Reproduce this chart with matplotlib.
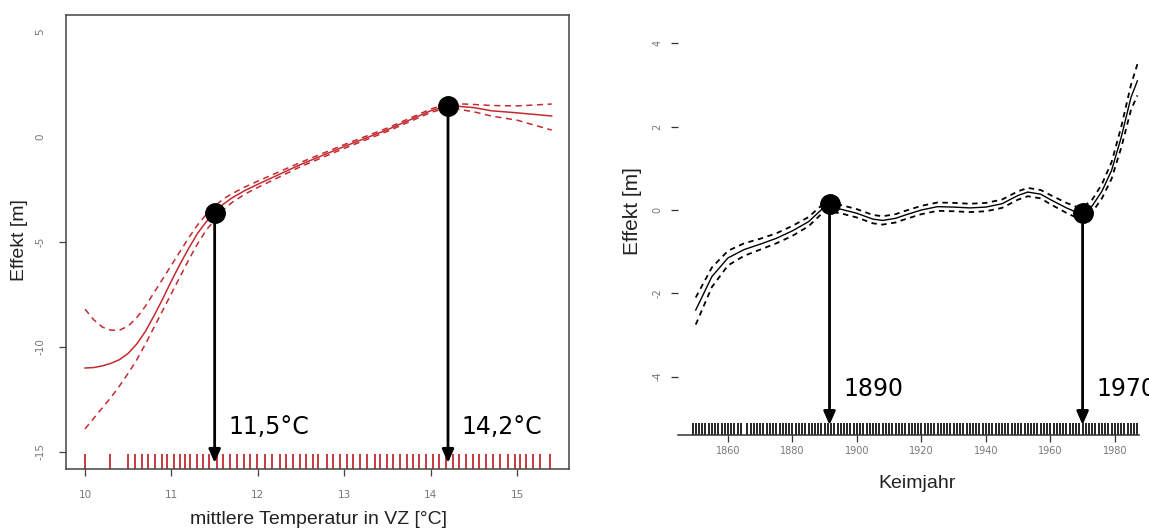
import matplotlib
matplotlib.use("Agg")
import matplotlib.pyplot as plt

# --- linkes Panel: Temperatur ---
temp = [10.0, 10.1, 10.2, 10.3, 10.4, 10.5, 10.6, 10.7, 10.8, 10.9, 11.0, 11.1, 11.2,
        11.3, 11.4, 11.5, 11.6, 11.7, 11.85, 12.0, 12.5, 13.0, 13.5, 14.0, 14.2, 14.5,
        14.7, 15.0, 15.4]
temp_fit = [-11.0, -10.98, -10.9, -10.78, -10.6, -10.3, -9.85, -9.25, -8.5, -7.7, -6.85,
            -6.05, -5.3, -4.6, -4.05, -3.6, -3.2, -2.9, -2.55, -2.25, -1.3, -0.45, 0.35,
            1.25, 1.5, 1.4, 1.25, 1.15, 1.0]
temp_upper = [-8.2, -8.7, -9.05, -9.2, -9.2, -9.0, -8.6, -8.05, -7.4, -6.75, -6.1, -5.45,
              -4.8, -4.2, -3.7, -3.3, -2.95, -2.7, -2.38, -2.1, -1.2, -0.36, 0.43, 1.33,
              1.6, 1.55, 1.5, 1.48, 1.57]
temp_lower = [-13.9, -13.4, -12.9, -12.4, -11.85, -11.25, -10.6, -9.85, -9.05, -8.25,
              -7.45, -6.65, -5.85, -5.1, -4.45, -3.95, -3.48, -3.12, -2.72, -2.4, -1.4,
              -0.54, 0.27, 1.17, 1.4, 1.2, 1.0, 0.8, 0.33]
temp_rug = [10.0, 10.29, 10.5, 10.58, 10.66, 10.73, 10.81, 10.89, 10.95, 11.03, 11.1, 11.16,
            11.22, 11.3, 11.37, 11.43, 11.53, 11.6, 11.68, 11.76, 11.84, 11.91, 11.99, 12.08,
            12.16, 12.26, 12.33, 12.41, 12.49, 12.56, 12.64, 12.7, 12.8, 12.87, 12.95, 13.03,
            13.1, 13.18, 13.26, 13.35, 13.41, 13.49, 13.56, 13.64, 13.72, 13.8, 13.87, 13.95,
            14.03, 14.1, 14.18, 14.26, 14.33, 14.41, 14.49, 14.56, 14.64, 14.72, 14.8, 14.89,
            14.97, 15.03, 15.1, 15.18, 15.26, 15.38]
temp_marks = [11.5, 14.2]
temp_mark_vals = [-3.6, 1.5]
temp_mark_labels = ["11,5°C", "14,2°C"]
temp_xticks = [10, 11, 12, 13, 14, 15]
temp_yticks = [5, 0, -5, -10, -15]

# --- rechtes Panel: Keimjahr ---
years = [1850, 1855, 1860, 1865, 1870, 1875, 1880, 1885, 1890, 1895, 1900, 1905, 1908,
         1912, 1915, 1920, 1925, 1930, 1935, 1940, 1945, 1950, 1953, 1957, 1960, 1965,
         1968, 1970, 1973, 1976, 1979, 1982, 1985, 1987]
year_fit = [-2.4, -1.6, -1.15, -0.95, -0.82, -0.68, -0.5, -0.28, 0.08, 0.02, -0.08, -0.22,
            -0.25, -0.2, -0.12, 0.0, 0.08, 0.07, 0.05, 0.07, 0.15, 0.35, 0.43, 0.38, 0.25,
            0.05, -0.05, -0.07, 0.1, 0.45, 0.95, 1.75, 2.7, 3.1]
year_upper = [-2.1, -1.38, -0.98, -0.8, -0.69, -0.56, -0.38, -0.17, 0.18, 0.12, 0.02, -0.12,
              -0.15, -0.1, -0.02, 0.1, 0.18, 0.17, 0.15, 0.17, 0.25, 0.45, 0.53, 0.48, 0.36,
              0.17, 0.08, 0.06, 0.25, 0.62, 1.15, 2.0, 3.0, 3.5]
year_lower = [-2.75, -1.85, -1.33, -1.1, -0.95, -0.8, -0.62, -0.39, -0.02, -0.08, -0.18, -0.32,
              -0.35, -0.3, -0.22, -0.1, -0.02, -0.03, -0.05, -0.03, 0.05, 0.25, 0.33, 0.28, 0.14,
              -0.07, -0.18, -0.2, -0.05, 0.28, 0.75, 1.5, 2.4, 2.75]
year_rug = [1849, 1850, 1851, 1852, 1853, 1854, 1855, 1856, 1857, 1858, 1859, 1860, 1861,
            1862, 1863, 1864, 1866, 1867, 1868, 1869, 1870, 1871, 1872, 1873, 1874, 1875,
            1876, 1877, 1878, 1879, 1880, 1881, 1882, 1883, 1884, 1885, 1886, 1887, 1888,
            1889, 1890, 1891, 1892, 1893, 1894, 1895, 1896, 1897, 1898, 1899, 1900, 1901,
            1902, 1903, 1904, 1905, 1906, 1907, 1908, 1909, 1910, 1911, 1912, 1913, 1914,
            1915, 1916, 1917, 1918, 1919, 1920, 1921, 1922, 1923, 1924, 1925, 1926, 1927,
            1928, 1929, 1930, 1931, 1932, 1933, 1934, 1935, 1936, 1937, 1938, 1939, 1940,
            1941, 1942, 1943, 1944, 1945, 1946, 1947, 1948, 1949, 1950, 1951, 1952, 1953,
            1954, 1955, 1956, 1957, 1958, 1959, 1960, 1961, 1962, 1963, 1964, 1965, 1966,
            1967, 1968, 1969, 1970, 1971, 1972, 1973, 1974, 1975, 1976, 1977, 1978, 1979,
            1980, 1981, 1982, 1983, 1984, 1985, 1986, 1987]
year_marks = [1891.5, 1970]
year_mark_vals = [0.15, -0.07]
year_mark_labels = ["1890", "1970"]
year_xticks = [1860, 1880, 1900, 1920, 1940, 1960, 1980]
year_yticks = [4, 2, 0, -2, -4]

red = "#c42a30"
tickcol = "#777777"
W, H = 1149, 529

fig = plt.figure(figsize=(W / 100, H / 100), dpi=100)

# linkes Panel
ax1 = fig.add_axes([66 / W, (H - 469) / H, 503 / W, 454 / H])
ax1.plot(temp, temp_fit, color=red, lw=1.1)
ax1.plot(temp, temp_upper, color=red, lw=1.1, ls=(0, (4, 3)))
ax1.plot(temp, temp_lower, color=red, lw=1.1, ls=(0, (4, 3)))
ax1.vlines(temp_rug, 0, 0.032, transform=ax1.get_xaxis_transform(), color=red, lw=1.3)
ax1.set_xlim(9.78, 15.6)
ax1.set_ylim(-15.81, 5.81)
ax1.set_xticks(temp_xticks)
ax1.set_yticks(temp_yticks)
ax1.set_yticklabels([str(v) for v in temp_yticks], rotation=90, va="center")
ax1.tick_params(length=5, width=0.9, color="#444444", labelsize=7.5, labelcolor=tickcol)
ax1.tick_params(axis="x", pad=10)
ax1.tick_params(axis="y", pad=10)
for t in ax1.yaxis.get_major_ticks()[:2]:
    t.tick1line.set_visible(False)
for s in ax1.spines.values():
    s.set_color("#444444")
    s.set_linewidth(1.1)

for x, y, lab in zip(temp_marks, temp_mark_vals, temp_mark_labels):
    ax1.annotate("", xy=(x, -15.52), xytext=(x, y),
                 arrowprops=dict(arrowstyle="-|>,head_length=0.8,head_width=0.35",
                                 color="black", lw=2, shrinkA=0, shrinkB=0), zorder=4)
    ax1.plot([x], [y], "o", color="black", ms=14, zorder=5)
    ax1.text(x + 0.155, -13.8, lab, fontsize=17, family="DejaVu Sans", va="center", ha="left")

# rechtes Panel
ax2 = fig.add_axes([678 / W, 94 / H, 461 / W, 415 / H])
ax2.plot(years, year_fit, color="black", lw=1.0)
ax2.plot(years, year_upper, color="black", lw=1.3, ls=(0, (3, 2.5)))
ax2.plot(years, year_lower, color="black", lw=1.3, ls=(0, (3, 2.5)))
ax2.vlines(year_rug, 0, 0.029, transform=ax2.get_xaxis_transform(), color="black", lw=1.2)
ax2.set_xlim(1844.5, 1987.5)
ax2.set_ylim(-5.4, 4.56)
ax2.set_xticks(year_xticks)
ax2.set_yticks(year_yticks)
ax2.set_yticklabels([str(v) for v in year_yticks], rotation=90, va="center")
ax2.tick_params(length=5, width=0.9, color="#333333", labelsize=7, labelcolor=tickcol)
ax2.tick_params(axis="x", pad=3)
ax2.tick_params(axis="y", pad=6)
for side in ["left", "top", "right"]:
    ax2.spines[side].set_visible(False)
ax2.spines["bottom"].set_color("#333333")
ax2.spines["bottom"].set_linewidth(1.1)

for x, y, lab in zip(year_marks, year_mark_vals, year_mark_labels):
    ax2.annotate("", xy=(x, -5.16), xytext=(x, y),
                 arrowprops=dict(arrowstyle="-|>,head_length=0.8,head_width=0.35",
                                 color="black", lw=2, shrinkA=0, shrinkB=0), zorder=4)
    ax2.plot([x], [y], "o", color="black", ms=14, zorder=5)
    ax2.text(x + 4.2, -4.29, lab, fontsize=17, family="DejaVu Sans", va="center",
             ha="left", clip_on=False)

# Achsenbeschriftungen
lab_font = dict(family="Liberation Sans", color="#222222")
fig.text(318 / W, 1 - 519 / H, "mittlere Temperatur in VZ [°C]", fontsize=14,
         ha="center", va="center", **lab_font)
fig.text(20 / W, 1 - 240 / H, "Effekt [m]", fontsize=14, rotation=90,
         ha="center", va="center", **lab_font)
fig.text(917 / W, 1 - 483 / H, "Keimjahr", fontsize=14, ha="center", va="center", **lab_font)
fig.text(632 / W, 1 - 211 / H, "Effekt [m]", fontsize=15, rotation=90,
         ha="center", va="center", **lab_font)

fig.savefig("out.png", dpi=100)
